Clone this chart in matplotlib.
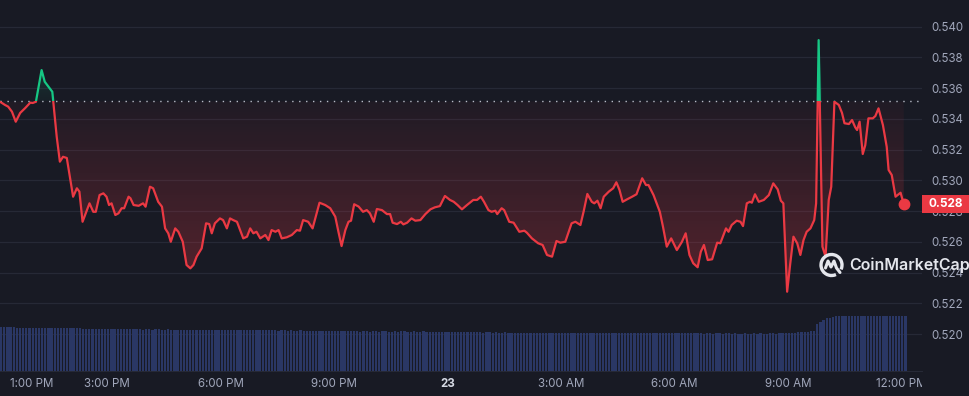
import matplotlib.pyplot as plt
import matplotlib.transforms as mtransforms
from matplotlib.patches import Rectangle, Arc
from matplotlib.lines import Line2D
import numpy as np

plt.rcParams['font.family'] = ['Inter', 'DejaVu Sans']

# minutes after 12:10 PM on the 22nd, price in USD
minutes = [0, 8, 13, 19, 25, 32, 40, 48, 52, 57, 66, 71, 79, 83, 90, 95, 100, 106,
           116, 122, 126, 131, 142, 148, 152, 158, 164, 169, 173, 177, 183, 188, 193, 197,
           204, 207, 212, 220, 227, 231, 238, 243, 251, 257, 262, 267, 271, 278, 283, 290,
           296, 302, 307, 312, 320, 327, 332, 336, 341, 349, 354, 360, 365, 370, 376, 386,
           392, 397, 402, 407, 413, 421, 426, 431, 437, 442, 447, 455, 463, 471, 476, 481,
           489, 496, 507, 516, 524, 532, 537, 542, 548, 553, 557, 562, 569, 576, 582, 587,
           593, 598, 606, 614, 619, 623, 630, 636, 640, 646, 653, 659, 667, 675, 683, 690,
           698, 706, 714, 720, 726, 733, 741, 751, 757, 763, 768, 775, 780, 786, 789, 796,
           800, 808, 815, 824, 832, 836, 844, 854, 861, 868, 876, 883, 889, 897, 907, 913,
           921, 926, 932, 939, 943, 948, 953, 958, 966, 973, 978, 983, 988, 995, 1003, 1010,
           1019, 1025, 1029, 1037, 1047, 1052, 1058, 1065, 1074, 1082, 1088, 1094, 1100, 1107,
           1112, 1117, 1123, 1130, 1138, 1143, 1152, 1156, 1161, 1169, 1175, 1179, 1185, 1190,
           1193, 1198, 1204, 1212, 1220, 1227, 1234, 1239, 1243, 1249, 1254, 1259, 1265, 1270,
           1275, 1280, 1286, 1292, 1295, 1299, 1305, 1310, 1315, 1319, 1324, 1331, 1336, 1340,
           1347, 1352, 1357, 1360, 1364, 1369, 1373, 1378, 1385, 1389, 1394, 1401, 1407, 1410,
           1415, 1421, 1429, 1434]
prices = [0.53512, 0.53491, 0.53480, 0.53447, 0.53382, 0.53439, 0.53471, 0.53506, 0.53504,
          0.53512, 0.53718, 0.53642, 0.53599, 0.53577, 0.53284, 0.53122, 0.53154, 0.53146,
          0.52894, 0.52949, 0.52927, 0.52731, 0.52851, 0.52796, 0.52796, 0.52905, 0.52916,
          0.52894, 0.52840, 0.52851, 0.52775, 0.52786, 0.52819, 0.52819, 0.52894, 0.52884,
          0.52840, 0.52835, 0.52851, 0.52829, 0.52959, 0.52949, 0.52861, 0.52829, 0.52688,
          0.52656, 0.52601, 0.52688, 0.52666, 0.52601, 0.52450, 0.52428, 0.52450, 0.52504,
          0.52558, 0.52721, 0.52716, 0.52656, 0.52721, 0.52753, 0.52742, 0.52688, 0.52753,
          0.52742, 0.52731, 0.52623, 0.52634, 0.52688, 0.52656, 0.52666, 0.52623, 0.52645,
          0.52612, 0.52677, 0.52666, 0.52677, 0.52623, 0.52630, 0.52645, 0.52677, 0.52673,
          0.52742, 0.52731, 0.52688, 0.52855, 0.52840, 0.52819, 0.52764, 0.52666, 0.52573,
          0.52677, 0.52731, 0.52738, 0.52845, 0.52830, 0.52796, 0.52807, 0.52786, 0.52731,
          0.52814, 0.52807, 0.52781, 0.52781, 0.52725, 0.52716, 0.52731, 0.52714, 0.52725,
          0.52753, 0.52738, 0.52742, 0.52781, 0.52812, 0.52825, 0.52833, 0.52899, 0.52873,
          0.52861, 0.52840, 0.52812, 0.52840, 0.52873, 0.52873, 0.52894, 0.52861, 0.52807,
          0.52796, 0.52803, 0.52781, 0.52819, 0.52807, 0.52731, 0.52725, 0.52666, 0.52673,
          0.52660, 0.52623, 0.52591, 0.52580, 0.52515, 0.52504, 0.52606, 0.52595, 0.52601,
          0.52721, 0.52731, 0.52710, 0.52796, 0.52912, 0.52861, 0.52851, 0.52868, 0.52819,
          0.52894, 0.52927, 0.52949, 0.52988, 0.52938, 0.52861, 0.52877, 0.52894, 0.52910,
          0.53014, 0.52970, 0.52970, 0.52905, 0.52796, 0.52699, 0.52569, 0.52623, 0.52547,
          0.52600, 0.52656, 0.52515, 0.52461, 0.52435, 0.52536, 0.52580, 0.52482, 0.52487,
          0.52595, 0.52591, 0.52688, 0.52666, 0.52710, 0.52738, 0.52731, 0.52703, 0.52851,
          0.52861, 0.52855, 0.52910, 0.52861, 0.52873, 0.52905, 0.52981, 0.52942, 0.52868,
          0.52851, 0.52276, 0.52461, 0.52634, 0.52591, 0.52515, 0.52612, 0.52666, 0.52688,
          0.52742, 0.52851, 0.53913, 0.52569, 0.52504, 0.52873, 0.52959, 0.53512, 0.53491,
          0.53440, 0.53372, 0.53367, 0.53393, 0.53346, 0.53328, 0.53382, 0.53172, 0.53230,
          0.53404, 0.53404, 0.53419, 0.53469, 0.53360, 0.53219, 0.53068, 0.53035, 0.52894,
          0.52920, 0.52846]
open_price = 0.53514
last_label = "0.528"

# 24h volume in billions USD, one bar every 5 minutes
vol_step = 5
volume = [
    0.986, 0.987, 0.985, 0.986, 0.984, 0.981, 0.980, 0.981, 0.979, 0.980, 0.978, 0.979,
    0.977, 0.968, 0.966, 0.965, 0.966, 0.964, 0.965, 0.963, 0.964, 0.965, 0.963, 0.962,
    0.963, 0.960, 0.958, 0.959, 0.957, 0.958, 0.958, 0.956, 0.957, 0.958, 0.956, 0.955,
    0.956, 0.957, 0.955, 0.950, 0.940, 0.938, 0.939, 0.937, 0.938, 0.936, 0.938, 0.937,
    0.936, 0.938, 0.937, 0.935, 0.936, 0.937, 0.935, 0.934, 0.936, 0.935, 0.934, 0.933,
    0.934, 0.933, 0.931, 0.932, 0.926, 0.925, 0.926, 0.924, 0.925, 0.926, 0.924, 0.923,
    0.924, 0.925, 0.923, 0.924, 0.922, 0.923, 0.924, 0.922, 0.916, 0.915, 0.916, 0.914,
    0.915, 0.916, 0.914, 0.915, 0.913, 0.914, 0.915, 0.913, 0.914, 0.912, 0.913, 0.914,
    0.912, 0.913, 0.911, 0.912, 0.913, 0.911, 0.912, 0.910, 0.911, 0.894, 0.893, 0.892,
    0.893, 0.891, 0.892, 0.893, 0.891, 0.892, 0.890, 0.891, 0.892, 0.890, 0.891, 0.892,
    0.890, 0.891, 0.892, 0.890, 0.889, 0.891, 0.890, 0.892, 0.891, 0.889, 0.890, 0.891,
    0.889, 0.890, 0.891, 0.889, 0.890, 0.888, 0.889, 0.890, 0.888, 0.889, 0.887, 0.872,
    0.871, 0.870, 0.872, 0.871, 0.869, 0.870, 0.871, 0.869, 0.870, 0.868, 0.869, 0.870,
    0.868, 0.869, 0.867, 0.868, 0.869, 0.867, 0.868, 0.866, 0.867, 0.868, 0.866, 0.867,
    0.866, 0.867, 0.865, 0.866, 0.864, 0.865, 0.866, 0.864, 0.865, 0.863, 0.854, 0.853,
    0.852, 0.853, 0.851, 0.852, 0.853, 0.851, 0.852, 0.850, 0.851, 0.852, 0.850, 0.851,
    0.850, 0.851, 0.849, 0.850, 0.851, 0.849, 0.850, 0.851, 0.849, 0.850, 0.848, 0.849,
    0.850, 0.848, 0.849, 0.850, 0.848, 0.849, 0.847, 0.848, 0.849, 0.847, 0.848, 0.849,
    0.847, 0.848, 0.846, 0.847, 0.848, 0.846, 0.847, 0.845, 0.846, 0.847, 0.845, 0.846,
    0.847, 0.845, 0.846, 0.847, 0.845, 0.846, 0.844, 0.845, 0.846, 0.844, 0.845, 0.846,
    0.845, 0.846, 0.844, 0.845, 0.846, 0.847, 0.845, 0.846, 0.858, 0.861, 0.863, 0.862,
    0.866, 0.871, 0.884, 0.887, 0.889, 0.891, 0.893, 1.062, 1.118, 1.158, 1.189, 1.207,
    1.222, 1.233, 1.239, 1.244, 1.247, 1.249, 1.250, 1.249, 1.251, 1.250, 1.252, 1.251,
    1.250, 1.251, 1.252, 1.250, 1.251, 1.252, 1.250, 1.251, 1.252, 1.251, 1.250, 1.251,
]

tick_minutes = [50, 170, 350, 530, 710, 890, 1070, 1250, 1430]
tick_labels = ["1:00 PM", "3:00 PM", "6:00 PM", "9:00 PM", "23",
               "3:00 AM", "6:00 AM", "9:00 AM", "12:00 PM"]
price_ticks = [0.520, 0.522, 0.524, 0.526, 0.528, 0.530,
               0.532, 0.534, 0.536, 0.538, 0.540]

BG = '#181a24'
RED = '#ea3943'
GREEN = '#16c784'
GREY = '#a1a7bb'
GRID = '#262936'

W, H = 970, 396
fig = plt.figure(figsize=(W / 100, H / 100), dpi=100, facecolor=BG)
x_end = 1463
ax_left, ax_bottom, ax_w = 0, 25.3 / H, 922 / W

ax = fig.add_axes([ax_left, ax_bottom, ax_w, 370.7 / H], zorder=1)
ax.set_facecolor(BG)
t = np.array(minutes, dtype=float)
p = np.array(prices)

# gradient fills between price and the opening price
def gradient_fill(lo, hi, rgb, a_lo, a_hi, below):
    poly = ax.fill_between(t, lo, hi, facecolor='none', edgecolor='none')
    alpha = np.linspace(a_lo, a_hi, 256)
    img = np.zeros((256, 1, 4))
    img[..., 0], img[..., 1], img[..., 2] = rgb
    img[:, 0, 3] = alpha
    ymin, ymax = (p.min(), open_price) if below else (open_price, p.max())
    im = ax.imshow(img, extent=[t[0], t[-1], ymin, ymax], origin='lower',
                   aspect='auto', zorder=1, interpolation='bilinear')
    im.set_clip_path(poly.get_paths()[0], ax.transData)

gradient_fill(np.minimum(p, open_price), open_price, (0.92, 0.22, 0.26), 0.30, 0.04, True)
gradient_fill(open_price, np.maximum(p, open_price), (0.09, 0.78, 0.52), 0.04, 0.25, False)

ax.axhline(open_price, color='#b7bcc8', lw=1.0, ls=(0, (1, 4)), zorder=2)

red_line, = ax.plot(t, p, color=RED, lw=1.6, zorder=3, solid_joinstyle='round')
red_line.set_clip_path(Rectangle((-100, 0.5), 2000, open_price - 0.5, transform=ax.transData))
green_line, = ax.plot(t, p, color=GREEN, lw=1.6, zorder=3, solid_joinstyle='round')
green_line.set_clip_path(Rectangle((-100, open_price), 2000, 0.1, transform=ax.transData))
ax.plot(t[-1], p[-1], 'o', color=RED, ms=7.5, zorder=4)

ax.set_xlim(0, x_end)
ax.set_ylim(0.51762, 0.54174)
for s in ['top', 'left', 'right']:
    ax.spines[s].set_visible(False)
ax.spines['bottom'].set_color(GRID)
ax.grid(axis='y', color=GRID, lw=0.9)
ax.set_axisbelow(True)

ax.yaxis.tick_right()
ax.set_yticks(price_ticks)
ax.set_yticklabels([f"{v:.3f}" for v in price_ticks])
ax.tick_params(axis='y', length=0, pad=7, labelsize=8.3, colors=GREY)
ax.set_xticks(tick_minutes)
ax.set_xticklabels(tick_labels)
ax.tick_params(axis='x', length=0, pad=5.5, labelsize=8.3, colors=GREY)
clip = mtransforms.TransformedBbox(mtransforms.Bbox([[0, 0], [922 / W, 1]]), fig.transFigure)
for lbl in ax.get_xticklabels():
    lbl.set_clip_box(clip)
    lbl.set_clip_on(True)
    if lbl.get_text() == "23":
        lbl.set_fontweight('bold')
        lbl.set_color('#d5d9e3')

# last price tag on the right axis
trans = mtransforms.blended_transform_factory(fig.transFigure, ax.transData)
ax.add_patch(Rectangle((922 / W, p[-1] - 0.000595), 48 / W, 0.00119, transform=trans,
                       facecolor=RED, edgecolor='none', clip_on=False, zorder=5))
ax.text(946 / W, p[-1], last_label, transform=trans, ha='center', va='center',
        color='white', fontsize=8.5, fontweight='bold', clip_on=False, zorder=6)

# volume bars
vax = fig.add_axes([ax_left, ax_bottom, ax_w, 80 / H], zorder=2)
vax.patch.set_alpha(0)
bar_t = np.arange(len(volume)) * vol_step
vax.bar(bar_t, volume, width=vol_step * 0.72, align='edge', color='#2a3765', lw=0)
vax.set_xlim(0, x_end)
vax.set_ylim(0, 80 / 44)
vax.axis('off')

# watermark
fig.text(849 / W, 1 - 265 / H, "CoinMarketCap", ha='left', va='center',
         fontsize=11.5, fontweight='semibold', color='#e4e6ec', zorder=10)
logo = mtransforms.Affine2D().translate(831.5, H - 265)
fig.add_artist(Arc((0, 0), 21, 21, theta1=-25, theta2=295, lw=2.4,
                   color='#e4e6ec', transform=logo, zorder=10))
fig.add_artist(Line2D([-6, -3.5, -0.5, 2.5, 5, 8.5], [-3, 4, -2, 4, -3, -7.5], lw=2.2,
                      color='#e4e6ec', transform=logo, zorder=10,
                      solid_joinstyle='round', solid_capstyle='round'))

fig.savefig('out.png', dpi=100, facecolor=BG)
